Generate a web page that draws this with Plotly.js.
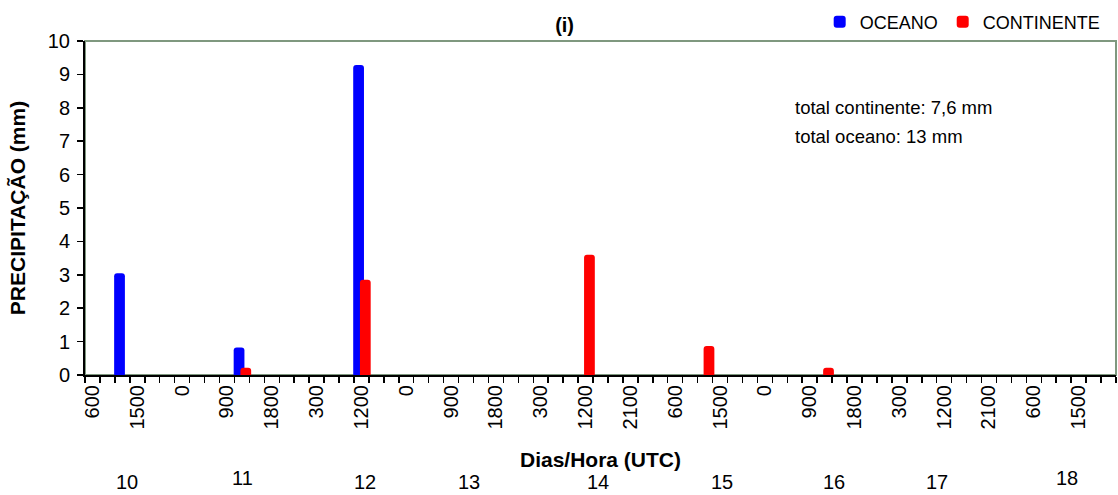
<!DOCTYPE html>
<html>
<head>
<meta charset="utf-8">
<script src="https://cdn.plot.ly/plotly-3.0.1.min.js"></script>
<style>html,body{margin:0;padding:0;background:#fff;}#chart{width:1118px;height:495px;}</style>
</head>
<body>
<div id="chart"></div>
<script>
// Categories: 3-hourly observation times (UTC), days 10 to 18
const horas = [
  "600","900","1200","1500","1800","2100","0","300",
  "600","900","1200","1500","1800","2100","0","300",
  "600","900","1200","1500","1800","0","300",
  "600","900","1200","1500","1800","2100","0","300",
  "600","900","1200","1500","1800","2100","0","300",
  "600","900","1200","1500","1800","2100","0","300",
  "600","900","1200","1500","1800","2100","0","300",
  "600","900","1200","1500","1800","2100","0","300",
  "600","900","1200","1500","1800","2100"
];
// Precipitation (mm) per category
const oceano = [
  0,0,3.05,0,0,0,0,0,
  0,0,0.82,0,0,0,0,0,
  0,0,9.28,0,0,0,0,
  0,0,0,0,0,0,0,0,
  0,0,0,0,0,0,0,0,
  0,0,0,0,0,0,0,0,
  0,0,0,0,0,0,0,0,
  0,0,0,0,0,0,0,0,
  0,0,0,0,0,0
];
const continente = [
  0,0,0,0,0,0,0,0,
  0,0,0.22,0,0,0,0,0,
  0,0,2.85,0,0,0,0,
  0,0,0,0,0,0,0,0,
  0,0,3.6,0,0,0,0,0,
  0,0,0.87,0,0,0,0,0,
  0,0,0.22,0,0,0,0,0,
  0,0,0,0,0,0,0,0,
  0,0,0,0,0,0
];
const dias = ["10","11","12","13","14","15","16","17","18"];
const totais = ["total continente: 7,6 mm", "total oceano: 13 mm"];

const idx = horas.map((_, i) => i);
const tickIdx = idx.filter(i => i % 3 === 0);
const tickTxt = tickIdx.map(i => horas[i]);

const FONT = "Liberation Sans, Arial, sans-serif";

const traces = [
  {type:"bar", name:"OCEANO", x: idx, y: oceano,
   marker:{color:"#0000ff", cornerradius:3}, width:0.72, offset:-0.55,
   hoverinfo:"y"},
  {type:"bar", name:"CONTINENTE", x: idx, y: continente,
   marker:{color:"#ff0000", cornerradius:3}, width:0.72, offset:-0.1,
   hoverinfo:"y"}
];

// placement of the day labels (paper coords)
const diaX = [0.0407,0.1523,0.2716,0.3725,0.4976,0.6178,0.7265,0.8264,0.9525];
const diaY = [-0.32,-0.308,-0.32,-0.32,-0.32,-0.32,-0.32,-0.32,-0.308];

const annotations = dias.map((d, i) => ({
  text: d, xref:"paper", yref:"paper", x: diaX[i], y: diaY[i],
  xanchor:"center", yanchor:"middle", showarrow:false,
  font:{family:FONT, size:20, color:"#000"}
}));
annotations.push({text: totais[0], xref:"paper", yref:"paper", x:0.687, y:0.802,
  xanchor:"left", yanchor:"middle", showarrow:false, font:{family:FONT, size:18.5, color:"#000"}});
annotations.push({text: totais[1], xref:"paper", yref:"paper", x:0.687, y:0.7126,
  xanchor:"left", yanchor:"middle", showarrow:false, font:{family:FONT, size:18.5, color:"#000"}});

const layout = {
  width:1118, height:495,
  margin:{l:85, r:2, t:41, b:120, pad:0},
  paper_bgcolor:"#fff", plot_bgcolor:"#fff",
  font:{family:FONT, size:20, color:"#000"},
  barmode:"overlay",
  showlegend:true,
  title:{text:"<b>(i)</b>", x:0.505, xanchor:"center", y:0.95, yanchor:"middle",
         font:{family:FONT, size:20, color:"#000"}},
  legend:{orientation:"h", x:0.99, xanchor:"right", y:1.057, yanchor:"middle",
          font:{family:FONT, size:18, color:"#000"}, itemwidth:30, bgcolor:"rgba(0,0,0,0)"},
  xaxis:{
    range:[-0.5, horas.length-0.5], fixedrange:true,
    tickmode:"array", tickvals:tickIdx, ticktext:tickTxt, tickangle:-90,
    ticks:"", showgrid:false, zeroline:false,
    showline:true, linecolor:"#000", linewidth:2,
    tickfont:{family:FONT, size:20, color:"#000"},
    minor:{tickmode:"linear", tick0:-0.5, dtick:1, ticks:"outside", ticklen:6, tickwidth:1.5, tickcolor:"#000", showgrid:false},
    title:{text:"<b>Dias/Hora (UTC)</b>", font:{family:FONT, size:21, color:"#000"}, standoff:24}
  },
  yaxis:{
    range:[0,10], dtick:1, tick0:0, fixedrange:true,
    ticks:"outside", ticklen:6, tickwidth:1.5, tickcolor:"#000",
    showgrid:false, zeroline:false,
    showline:true, linecolor:"#000", linewidth:2,
    tickfont:{family:FONT, size:20, color:"#000"},
    ticklabelstandoff:3,
    title:{text:"<b>PRECIPITAÇÃO (mm)</b>", font:{family:FONT, size:21, color:"#000"}, standoff:16}
  },
  shapes:[{type:"rect", xref:"paper", yref:"paper", x0:0, x1:1, y0:0, y1:1,
           line:{color:"#7f987f", width:2}, layer:"below"}],
  annotations: annotations
};

Plotly.newPlot("chart", traces, layout, {displayModeBar:false, staticPlot:true});
</script>
</body>
</html>
